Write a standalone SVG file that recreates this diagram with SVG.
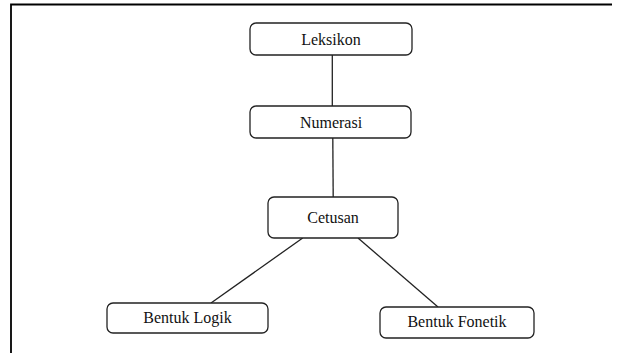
<svg xmlns="http://www.w3.org/2000/svg" width="621" height="353" viewBox="0 0 621 353">
<style>
.box{fill:#fff;stroke:#222;stroke-width:1.3}
.lbl{font-size:16px;fill:#111;text-anchor:middle}
.edge{stroke:#222;stroke-width:1.3;fill:none}
.frame{stroke:#000;stroke-width:1.8;fill:none}
</style>
<rect width="621" height="353" fill="#fff"/>
<path class="frame" d="M612,4.5 H11 V353"/>
<g id="connectors">
<line class="edge" x1="332.3" y1="55" x2="332.3" y2="106"/>
<line class="edge" x1="332.8" y1="138" x2="333.2" y2="197"/>
<line class="edge" x1="302.7" y1="238" x2="211" y2="303"/>
<line class="edge" x1="358" y1="238" x2="438" y2="307"/>
</g>
<g font-family="'Liberation Serif', 'DejaVu Serif', serif">
<g id="leksikon"><rect class="box" x="250" y="23" width="162" height="32" rx="6"/><text class="lbl" x="331" y="44.5">Leksikon</text></g>
<g id="numerasi"><rect class="box" x="250" y="106" width="161" height="32" rx="6"/><text class="lbl" x="331" y="127.5">Numerasi</text></g>
<g id="cetusan"><rect class="box" x="268" y="197" width="130" height="41" rx="6"/><text class="lbl" x="333" y="223">Cetusan</text></g>
<g id="bentuk-logik"><rect class="box" x="107" y="303" width="161" height="30" rx="6"/><text class="lbl" x="187.5" y="322.5">Bentuk Logik</text></g>
<g id="bentuk-fonetik"><rect class="box" x="380" y="307" width="154" height="31" rx="6"/><text class="lbl" x="457" y="327">Bentuk Fonetik</text></g>
</g>
</svg>
